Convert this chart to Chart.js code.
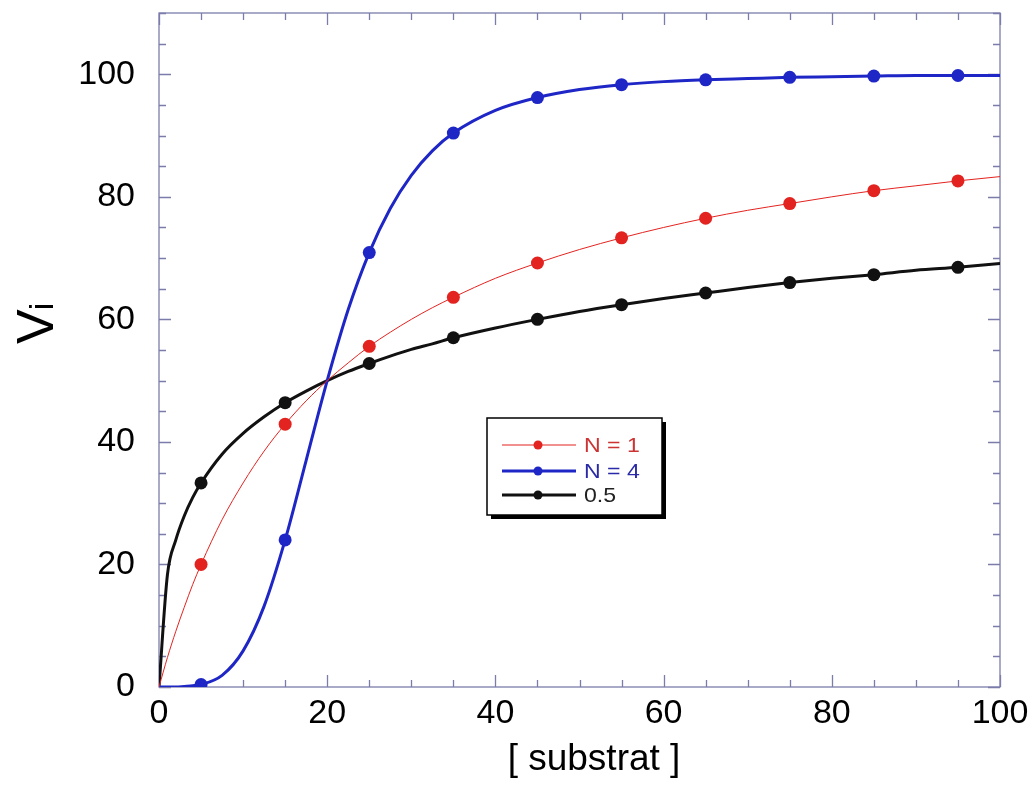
<!DOCTYPE html>
<html>
<head>
<meta charset="utf-8">
<script src="https://cdn.jsdelivr.net/npm/chart.js@4/dist/chart.umd.min.js"></script>
<style>
  body { margin: 0; background: #fff; }
  #wrap { width: 1034px; height: 785px; }
</style>
</head>
<body>
<div id="wrap"><canvas id="hill"></canvas></div>
<script>
// curve samples
const xCurve = [0, 1, 2, 3, 4, 5, 7.5, 10, 12.5, 15, 17.5, 20, 22.5, 25, 27.5, 30, 32.5, 35, 40, 45, 50, 55, 60, 65, 70, 75, 80, 85, 90, 95, 100];
const n1Curve = [0, 4.8, 9.1, 13.0, 16.7, 20.0, 27.3, 33.3, 38.5, 42.9, 46.7, 50.0, 52.9, 55.6, 57.9, 60.0, 61.9, 63.6, 66.7, 69.2, 71.4, 73.3, 75.0, 76.5, 77.8, 78.9, 80.0, 81.0, 81.8, 82.6, 83.3];
const n4Curve = [0, 0, 0, 0.1, 0.2, 0.4, 1.9, 5.9, 13.2, 24.0, 37.0, 50.0, 61.6, 70.9, 78.1, 83.5, 87.5, 90.4, 94.1, 96.2, 97.5, 98.3, 98.8, 99.1, 99.3, 99.5, 99.6, 99.7, 99.8, 99.8, 99.8];
const n05Curve = [0, 18.3, 24.0, 27.9, 30.9, 33.3, 38.0, 41.4, 44.1, 46.4, 48.3, 50.0, 51.5, 52.8, 54.0, 55.1, 56.0, 57.0, 58.6, 60.0, 61.3, 62.4, 63.4, 64.3, 65.2, 66.0, 66.7, 67.3, 68.0, 68.5, 69.1];

// marker points
const xMarks = [5, 15, 25, 35, 45, 55, 65, 75, 85, 95];
const n1Marks = [20.0, 42.9, 55.6, 63.6, 69.2, 73.3, 76.5, 78.9, 81.0, 82.6];
const n4Marks = [0.4, 24.0, 70.9, 90.4, 96.2, 98.3, 99.1, 99.5, 99.7, 99.8];
const n05Marks = [33.3, 46.4, 52.8, 57.0, 60.0, 62.4, 64.3, 66.0, 67.3, 68.5];

const xTickLabels = [0, 20, 40, 60, 80, 100];
const yTickLabels = [0, 20, 40, 60, 80, 100];
const seriesNames = ['N = 1', 'N = 4', '0.5'];

const RED = '#e3231f', BLUE = '#1f26c6', BLACK = '#111111';
const FONT = "'Liberation Sans', Arial, sans-serif";
const FRAME = '#7c7cab';

function pts(xs, ys) {
    return xs.map((x, i) => ({ x: x, y: ys[i] }));
}

// frame with inward ticks on all four sides
const framePlugin = {
    id: 'frame',
    beforeDatasetsDraw(chart) {
        const { ctx, chartArea: a, scales: { x, y } } = chart;
        ctx.save();
        ctx.strokeStyle = FRAME;
        ctx.lineWidth = 1.3;
        ctx.strokeRect(a.left, a.top, a.right - a.left, a.bottom - a.top);
        ctx.beginPath();
        for (let v = 0; v <= x.max; v += 5) {
            const px = Math.round(x.getPixelForValue(v)) + 0.5;
            const len = v % 20 === 0 ? 12 : 7;
            ctx.moveTo(px, a.bottom); ctx.lineTo(px, a.bottom - len);
            ctx.moveTo(px, a.top); ctx.lineTo(px, a.top + len);
        }
        for (let v = 0; v <= y.max; v += 5) {
            const py = Math.round(y.getPixelForValue(v)) + 0.5;
            const len = v % 20 === 0 ? 12 : 7;
            ctx.moveTo(a.left, py); ctx.lineTo(a.left + len, py);
            ctx.moveTo(a.right, py); ctx.lineTo(a.right - len, py);
        }
        ctx.stroke();
        ctx.restore();
    }
};

// axis titles and the boxed legend
const annotPlugin = {
    id: 'annot',
    afterDraw(chart) {
        const ctx = chart.ctx;
        ctx.save();
        ctx.fillStyle = '#000';
        ctx.font = '37px ' + FONT;
        ctx.textAlign = 'center';
        ctx.textBaseline = 'alphabetic';
        ctx.fillText('[ substrat ]', 594, 770);

        // V with subscript i, rotated
        ctx.translate(53, 344);
        ctx.rotate(-Math.PI / 2);
        ctx.textAlign = 'left';
        ctx.font = '52px ' + FONT;
        ctx.fillText('V', 0, 0);
        const w = ctx.measureText('V').width;
        ctx.font = '34px ' + FONT;
        ctx.fillText('i', w - 1, 0);
        ctx.restore();

        // legend box
        const bx = 487, by = 418, bw = 175, bh = 97;
        ctx.save();
        ctx.fillStyle = '#000';
        ctx.fillRect(bx + 4, by + 4, bw, bh);
        ctx.fillStyle = '#fff';
        ctx.fillRect(bx, by, bw, bh);
        ctx.strokeStyle = '#000';
        ctx.lineWidth = 1.5;
        ctx.strokeRect(bx, by, bw, bh);
        const rows = [445, 471, 495];
        const colors = [RED, BLUE, BLACK];
        const textColors = ['#cc3333', '#2a2aa8', '#222222'];
        const widths = [1, 3, 3];
        seriesNames.forEach((name, i) => {
            const ry = rows[i];
            ctx.strokeStyle = colors[i];
            ctx.lineWidth = widths[i];
            ctx.beginPath();
            ctx.moveTo(502, ry); ctx.lineTo(576, ry);
            ctx.stroke();
            ctx.fillStyle = colors[i];
            ctx.beginPath();
            ctx.arc(538, ry, 4.5, 0, Math.PI * 2);
            ctx.fill();
            // legend text is a little stretched sideways in the original
            ctx.save();
            ctx.translate(584, ry + 1);
            ctx.scale(1.1, 1);
            ctx.font = '21px ' + FONT;
            ctx.textBaseline = 'middle';
            ctx.textAlign = 'left';
            ctx.fillStyle = textColors[i];
            ctx.fillText(name, 0, 0);
            ctx.restore();
        });
        ctx.restore();
    }
};

const lineDs = (ys, color, width) => ({
    data: pts(xCurve, ys),
    showLine: true,
    borderColor: color,
    borderWidth: width,
    pointRadius: 0,
    cubicInterpolationMode: 'monotone',
    order: 1
});
const markDs = (ys, color) => ({
    data: pts(xMarks, ys),
    showLine: false,
    backgroundColor: color,
    borderColor: color,
    pointRadius: 6.5,
    pointBorderWidth: 0,
    order: 0
});

new Chart(document.getElementById('hill'), {
    type: 'scatter',
    data: {
        datasets: [
            lineDs(n1Curve, RED, 1),
            lineDs(n4Curve, BLUE, 3),
            lineDs(n05Curve, BLACK, 3),
            markDs(n1Marks, RED),
            markDs(n4Marks, BLUE),
            markDs(n05Marks, BLACK)
        ]
    },
    options: {
        responsive: true,
        maintainAspectRatio: false,
        animation: false,
        layout: { padding: { left: 0, top: 13, right: 34, bottom: 0 } },
        plugins: { legend: { display: false }, tooltip: { enabled: false } },
        scales: {
            x: {
                type: 'linear',
                min: 0, max: 100,
                grid: { display: false, drawTicks: false },
                border: { display: false },
                ticks: { font: { size: 34, family: FONT }, color: '#000', padding: 6, maxRotation: 0 },
                afterBuildTicks: s => { s.ticks = xTickLabels.map(v => ({ value: v })); },
                afterFit: s => { s.height = 98; s.paddingLeft = 0; s.paddingRight = 0; }
            },
            y: {
                type: 'linear',
                min: 0, max: 110,
                grid: { display: false, drawTicks: false },
                border: { display: false },
                ticks: { font: { size: 34, family: FONT }, color: '#000', padding: 24 },
                afterBuildTicks: s => { s.ticks = yTickLabels.map(v => ({ value: v })); },
                afterFit: s => { s.width = 159; s.paddingTop = 0; s.paddingBottom = 0; }
            }
        }
    },
    plugins: [framePlugin, annotPlugin]
});
</script>
</body>
</html>
